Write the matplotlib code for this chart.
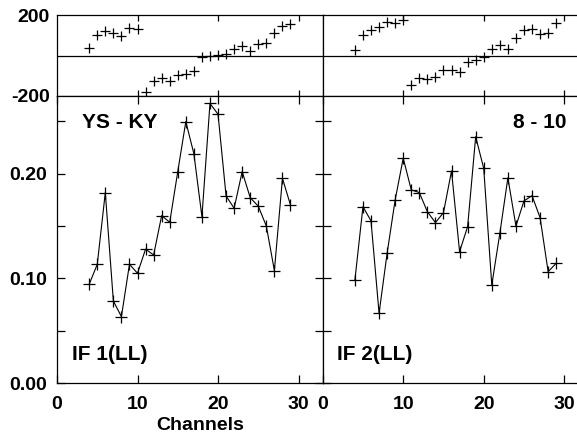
import matplotlib
matplotlib.use('Agg')
import matplotlib.pyplot as plt

plt.rcParams['font.family'] = ['Liberation Sans', 'DejaVu Sans']
plt.rcParams['font.weight'] = 'bold'
plt.rcParams['font.size'] = 14

channels = list(range(4, 30))

# phase (degrees), IF 1 and IF 2
phase_if1 = [38, 100, 122, 112, 96, 135, 132, -178, -128, -112, -124, -95, -90, -78,
             -8, 0, 4, 8, 32, 45, 22, 55, 64, 112, 145, 155]
phase_if2 = [27, 103, 127, 142, 165, 160, 174, -144, -110, -118, -106, -71, -71, -80,
             -30, -21, -8, 33, 52, 34, 88, 124, 130, 106, 111, 160]

# amplitude
amp_if1 = [0.0945, 0.1135, 0.182, 0.0785, 0.0636, 0.1135, 0.105, 0.128, 0.1224, 0.160,
           0.1536, 0.202, 0.2497, 0.219, 0.159, 0.267, 0.2567, 0.1787, 0.167, 0.202,
           0.177, 0.169, 0.150, 0.1075, 0.1956, 0.170]
amp_if2 = [0.0986, 0.1685, 0.155, 0.0668, 0.124, 0.175, 0.2147, 0.1845, 0.182, 0.1637,
           0.1533, 0.1628, 0.2026, 0.1256, 0.1495, 0.2353, 0.205, 0.0938, 0.143, 0.196,
           0.150, 0.174, 0.179, 0.158, 0.1065, 0.1145]

x_ticks = [0, 10, 20, 30]
x_ticklabels = ['0', '10', '20', '30']
if_labels = ['IF 1(LL)', 'IF 2(LL)']
corner_labels = ['YS - KY', '8 - 10']

W, H = 577, 437
fig = plt.figure(figsize=(W / 100, H / 100), dpi=100)

lefts = [57, 322.7]
pw = 265.7
for i, (ph, amp) in enumerate([(phase_if1, amp_if1), (phase_if2, amp_if2)]):
    left = lefts[i] / W
    axp = fig.add_axes([left, 1 - 96 / H, pw / W, 81 / H])
    axa = fig.add_axes([left, 1 - 383.3 / H, pw / W, 287.3 / H])

    # phase panel
    axp.axhline(0, color='k', lw=0.9)
    axp.plot(channels, ph, '+', color='k', ms=6.5, mew=0.9)
    axp.set_xlim(0, 33)
    axp.set_ylim(-200, 200)
    axp.set_xticks([10, 20, 30])
    axp.tick_params(axis='x', direction='in', length=4, width=0.9, top=True,
                    bottom=True, labelbottom=False)
    axp.set_yticks([-200, 200])
    axp.tick_params(axis='y', length=0, pad=5)

    # amplitude panel
    axa.plot(channels, amp, '-', color='k', lw=0.8, marker='+', ms=9, mew=0.9)
    axa.set_xlim(0, 33)
    axa.set_ylim(0, 0.2741)
    axa.set_xticks(x_ticks)
    axa.set_xticklabels(x_ticklabels)
    axa.set_yticks([0.0, 0.10, 0.20])
    axa.set_yticks([0.05, 0.15, 0.25], minor=True)
    axa.tick_params(axis='both', which='both', direction='in', length=6, width=0.9,
                    top=True, right=True)
    axa.tick_params(axis='x', pad=9)
    axa.tick_params(axis='y', pad=7)

    if i == 0:
        axp.set_yticklabels(['-200', '200'])
        axa.set_yticklabels(['0.00', '0.10', '0.20'])
    else:
        axp.tick_params(axis='y', labelleft=False)
        axa.tick_params(axis='y', labelleft=False)

    for ax in (axp, axa):
        for s in ax.spines.values():
            s.set_linewidth(0.9)
        if i == 1:
            ax.spines['right'].set_visible(False)

    axa.text(0.055, 0.08, if_labels[i], transform=axa.transAxes, ha='left',
             va='baseline', fontsize=15, fontweight='bold')
    if i == 0:
        axa.text(0.093, 0.888, corner_labels[i], transform=axa.transAxes, ha='left',
                 va='baseline', fontsize=15, fontweight='bold')
    else:
        axa.text(0.918, 0.888, corner_labels[i], transform=axa.transAxes, ha='right',
                 va='baseline', fontsize=15, fontweight='bold')

fig.text(200 / W, 1 - 425 / H, 'Channels', ha='center', va='center',
         fontsize=14, fontweight='bold')

fig.savefig('out.png', dpi=100)
